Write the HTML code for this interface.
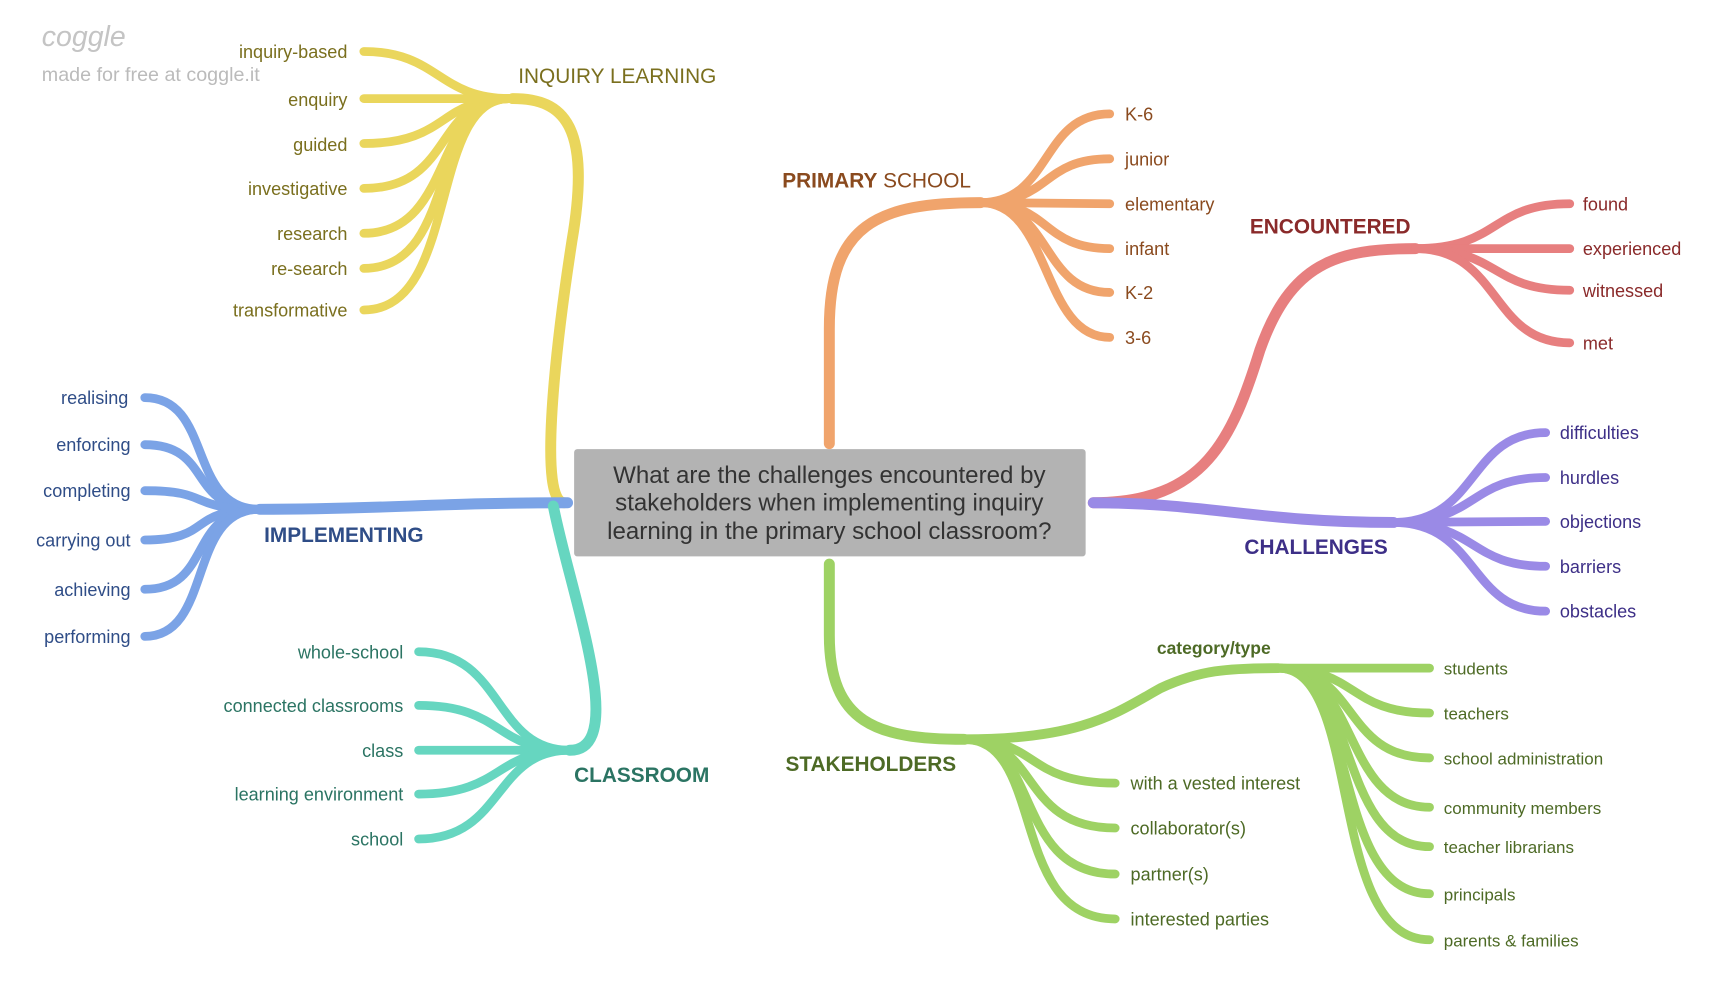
<!DOCTYPE html>
<html><head><meta charset="utf-8"><style>
html,body{margin:0;padding:0;background:#fff;width:1720px;height:1000px;overflow:hidden}
svg{display:block}
text{font-family:"Liberation Sans",sans-serif}
</style></head><body>
<svg width="1720" height="1000" viewBox="0 0 1570 913" xmlns="http://www.w3.org/2000/svg">
<g fill="none" stroke-linecap="round">
<!-- yellow -->
<g stroke="#ead65c">
<path d="M515,459 C492,459 505,330 522,220 C540,115 515,90 468,90" stroke-width="10"/>
<g stroke-width="8">
<path d="M465,90 C400,90 400,47 332,47"/>
<path d="M465,90 L332,90"/>
<path d="M465,90 C400,90 410,131 332,131"/>
<path d="M465,90 C395,90 415,172 332,172"/>
<path d="M465,90 C395,90 415,213 332,213"/>
<path d="M465,90 C390,90 420,245 332,245"/>
<path d="M465,90 C390,90 420,283 332,283"/>
</g></g>
<!-- blue -->
<g stroke="#7ba3e6">
<path d="M518,459 C400,459 350,465 237,465" stroke-width="10"/>
<g stroke-width="8">
<path d="M237,465 C170,465 195,363 132,363"/>
<path d="M237,465 C170,465 195,406 132,406"/>
<path d="M237,465 C170,465 195,448 132,448"/>
<path d="M237,465 C170,465 195,493 132,493"/>
<path d="M237,465 C170,465 195,538 132,538"/>
<path d="M237,465 C170,465 195,581 132,581"/>
</g></g>
<!-- teal -->
<g stroke="#66d6c0">
<path d="M505,462 C520,540 575,685 520,685" stroke-width="10"/>
<g stroke-width="8">
<path d="M520,685 C450,685 460,595 382,595"/>
<path d="M520,685 C450,685 460,644 382,644"/>
<path d="M520,685 L382,685"/>
<path d="M520,685 C450,685 460,725 382,725"/>
<path d="M520,685 C450,685 460,766 382,766"/>
</g></g>
<!-- orange -->
<g stroke="#f0a46c">
<path d="M757,405 L757,300 C757,205 800,185 895,185" stroke-width="10"/>
<g stroke-width="8">
<path d="M895,185 C960,185 950,104 1013,104"/>
<path d="M895,185 C960,185 950,145 1013,145"/>
<path d="M895,185 L1013,186"/>
<path d="M895,185 C960,185 950,227 1013,227"/>
<path d="M895,185 C960,185 950,267 1013,267"/>
<path d="M895,185 C960,185 950,308 1013,308"/>
</g></g>
<!-- red -->
<g stroke="#e77f7f">
<path d="M998,459 C1100,459 1125,400 1150,320 C1178,240 1220,227 1292,227" stroke-width="10"/>
<g stroke-width="8">
<path d="M1292,227 C1370,227 1360,186 1433,186"/>
<path d="M1292,227 L1433,227"/>
<path d="M1292,227 C1370,227 1360,265 1433,265"/>
<path d="M1292,227 C1370,227 1360,313 1433,313"/>
</g></g>
<!-- purple -->
<g stroke="#9a8ae6">
<path d="M998,459 C1100,459 1150,477 1272,477" stroke-width="10"/>
<g stroke-width="8">
<path d="M1272,477 C1350,477 1340,395 1411,395"/>
<path d="M1272,477 C1350,477 1340,436 1411,436"/>
<path d="M1272,477 L1411,476"/>
<path d="M1272,477 C1350,477 1340,517 1411,517"/>
<path d="M1272,477 C1350,477 1340,558 1411,558"/>
</g></g>
<!-- green -->
<g stroke="#9ed264">
<path d="M757,515 L757,580 C757,660 800,675 880,675" stroke-width="10"/>
<path d="M880,675 C990,675 1020,650 1060,628 C1095,612 1120,610 1167,610" stroke-width="9"/>
<g stroke-width="8">
<path d="M880,675 C950,675 935,715 1018,715"/>
<path d="M880,675 C950,675 930,756 1018,756"/>
<path d="M880,675 C950,675 925,798 1018,798"/>
<path d="M880,675 C955,675 920,839 1018,839"/>
<path d="M1167,610 L1305,610"/>
<path d="M1167,610 C1240,610 1230,651 1305,651"/>
<path d="M1167,610 C1240,610 1225,692 1305,692"/>
<path d="M1167,610 C1240,610 1225,737 1305,737"/>
<path d="M1167,610 C1240,610 1220,773 1305,773"/>
<path d="M1167,610 C1240,610 1215,816 1305,816"/>
<path d="M1167,610 C1245,610 1210,858 1305,858"/>
</g></g>
</g>
<!-- center -->
<rect x="524" y="410" width="467" height="98" rx="3" fill="#b3b3b3"/>
<g font-size="22" fill="#333" text-anchor="middle">
<text x="757" y="441">What are the challenges encountered by</text>
<text x="757" y="466">stakeholders when implementing inquiry</text>
<text x="757" y="492">learning in the primary school classroom?</text>
</g>
<!-- logo -->
<text x="38" y="42" font-size="26" fill="#c4c4c4" font-style="italic" font-family="Liberation Serif,serif">coggle</text>
<text x="38" y="74" font-size="18" fill="#bbb">made for free at coggle.it</text>
<!-- main labels -->
<text x="473" y="76" font-size="19" fill="#7a6f1e">INQUIRY LEARNING</text>
<text x="241" y="495" font-size="19" font-weight="bold" fill="#2f4d87">IMPLEMENTING</text>
<text x="524" y="714" font-size="19" font-weight="bold" fill="#2b7463">CLASSROOM</text>
<text x="714" y="171" font-size="19" fill="#8a4a1e"><tspan font-weight="bold">PRIMARY</tspan> SCHOOL</text>
<text x="1141" y="213" font-size="19" font-weight="bold" fill="#8a2a2a">ENCOUNTERED</text>
<text x="1136" y="506" font-size="19" font-weight="bold" fill="#3d2f87">CHALLENGES</text>
<text x="717" y="704" font-size="19" font-weight="bold" fill="#4d6a25">STAKEHOLDERS</text>
<text x="1056" y="597" font-size="16" font-weight="bold" fill="#4d6a25">category/type</text>
<!-- leaves -->
<g font-size="16.5" fill="#7a6f1e" text-anchor="end">
<text x="317" y="53">inquiry-based</text><text x="317" y="97">enquiry</text><text x="317" y="138">guided</text><text x="317" y="178">investigative</text><text x="317" y="219">research</text><text x="317" y="251">re-search</text><text x="317" y="289">transformative</text>
</g>
<g font-size="16.5" fill="#2f4d87" text-anchor="end">
<text x="117" y="369">realising</text><text x="119" y="412">enforcing</text><text x="119" y="454">completing</text><text x="119" y="499">carrying out</text><text x="119" y="544">achieving</text><text x="119" y="587">performing</text>
</g>
<g font-size="16.5" fill="#2b7463" text-anchor="end">
<text x="368" y="601">whole-school</text><text x="368" y="650">connected classrooms</text><text x="368" y="691">class</text><text x="368" y="731">learning environment</text><text x="368" y="772">school</text>
</g>
<g font-size="16.5" fill="#8a4a1e">
<text x="1027" y="110">K-6</text><text x="1027" y="151">junior</text><text x="1027" y="192">elementary</text><text x="1027" y="233">infant</text><text x="1027" y="273">K-2</text><text x="1027" y="314">3-6</text>
</g>
<g font-size="16.5" fill="#8a2a2a">
<text x="1445" y="192">found</text><text x="1445" y="233">experienced</text><text x="1445" y="271">witnessed</text><text x="1445" y="319">met</text>
</g>
<g font-size="16.5" fill="#3d2f87">
<text x="1424" y="401">difficulties</text><text x="1424" y="442">hurdles</text><text x="1424" y="482">objections</text><text x="1424" y="523">barriers</text><text x="1424" y="564">obstacles</text>
</g>
<g font-size="16.5" fill="#4d6a25">
<text x="1032" y="721">with a vested interest</text><text x="1032" y="762">collaborator(s)</text><text x="1032" y="804">partner(s)</text><text x="1032" y="845">interested parties</text>
</g>
<g font-size="15.5" fill="#4d6a25">
<text x="1318" y="616">students</text><text x="1318" y="657">teachers</text><text x="1318" y="698">school administration</text><text x="1318" y="743">community members</text><text x="1318" y="779">teacher librarians</text><text x="1318" y="822">principals</text><text x="1318" y="864">parents &amp; families</text>
</g>
</svg>
</body></html>
